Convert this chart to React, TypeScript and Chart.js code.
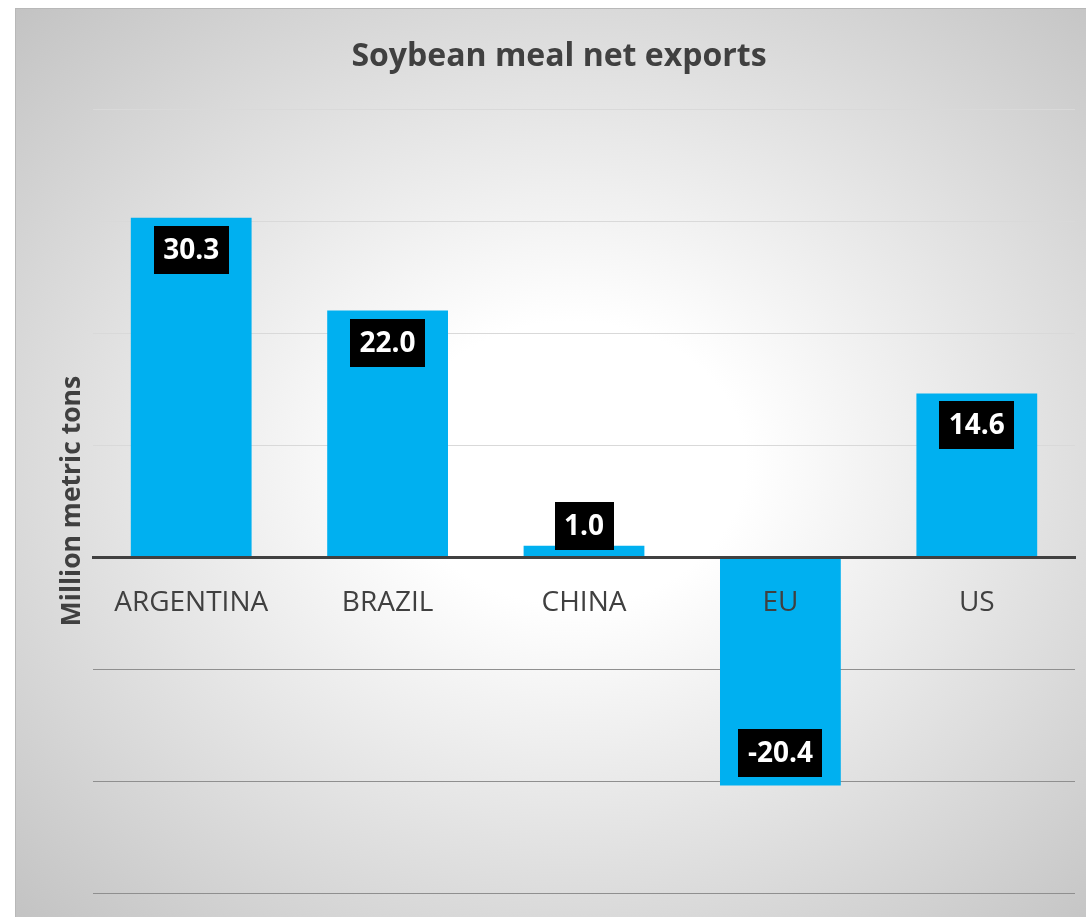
import { useEffect, useRef } from "react";
import { Chart, registerables } from "chart.js";

Chart.register(...registerables);

// Net soybean meal exports by country (million metric tons)
const countries = ["ARGENTINA", "BRAZIL", "CHINA", "EU", "US"];
const netExports = [30.3, 22.0, 1.0, -20.4, 14.6];

// Value axis range and gridline spacing
const yMin = -30;
const yMax = 40;
const yStep = 10;

const FONT = "'Open Sans', 'DejaVu Sans', sans-serif";

// Black value boxes with white bold numbers, placed just inside the bar end
const valueBoxes = {
  id: "valueBoxes",
  afterDraw(chart: any) {
    const ctx = chart.ctx as CanvasRenderingContext2D;
    const meta = chart.getDatasetMeta(0);
    const data = chart.data.datasets[0].data as number[];
    ctx.save();
    ctx.font = `bold 28px ${FONT}`;
    ctx.textAlign = "center";
    ctx.textBaseline = "middle";
    meta.data.forEach((bar: any, i: number) => {
      const v = data[i];
      const text = v.toFixed(1);
      const w = Math.round(ctx.measureText(text).width + 19);
      const h = 48;
      const { x, y, base } = bar.getProps(["x", "y", "base"], true);
      const len = Math.abs(base - y);
      let top: number;
      if (v >= 0) {
        top = len >= h + 16 ? y + 8 : y - h + 4;
      } else {
        top = len >= h + 16 ? y - 8 - h : y - 4;
      }
      ctx.fillStyle = "#000000";
      ctx.fillRect(Math.round(x - w / 2), Math.round(top), w, h);
      ctx.fillStyle = "#ffffff";
      ctx.fillText(text, x, top + h / 2 + 1);
    });
    ctx.restore();
  },
};

export default function App() {
  const canvasRef = useRef<HTMLCanvasElement | null>(null);

  useEffect(() => {
    const canvas = canvasRef.current;
    if (!canvas) return;
    const chart = new Chart(canvas, {
      type: "bar",
      data: {
        labels: countries,
        datasets: [
          {
            data: netExports,
            backgroundColor: "#00B0F0",
            borderWidth: 0,
            categoryPercentage: 1,
            barPercentage: 0.615,
          },
        ],
      },
      options: {
        animation: false,
        responsive: false,
        devicePixelRatio: 1,
        layout: { padding: { left: 27, right: 11, top: 0, bottom: 24 } },
        plugins: {
          legend: { display: false },
          tooltip: { enabled: false },
          title: {
            display: true,
            text: "Soybean meal net exports",
            color: "#404040",
            font: { family: FONT, size: 32, weight: "bold", lineHeight: 1.2 },
            padding: { top: 28.8, bottom: 32.8 },
          },
        },
        scales: {
          x: {
            position: { y: 0 } as any,
            grid: { display: false, drawTicks: false },
            border: { display: true, color: "#404040", width: 3, z: 1 },
            ticks: {
              color: "#404040",
              font: { family: FONT, size: 28 },
              padding: 29,
              z: 1,
            },
          },
          y: {
            min: yMin,
            max: yMax,
            ticks: { display: false, stepSize: yStep },
            grid: {
              drawTicks: false,
              lineWidth: 1,
              color: (c: any) =>
                c.tick && c.tick.value < 0 ? "#8f8f8f" : "#d9d9d9",
            },
            border: { display: false },
            title: {
              display: true,
              text: "Million metric tons",
              color: "#404040",
              font: { family: FONT, size: 26.5, weight: "bold", lineHeight: 1.2 },
              padding: { top: 14, bottom: 0 },
            },
            afterFit: (scale: any) => {
              scale.width = 50;
            },
          },
        },
      },
      plugins: [valueBoxes],
    });
    return () => chart.destroy();
  }, []);

  return (
    <div
      style={{
        position: "fixed",
        left: 15,
        top: 8,
        width: 1071,
        height: 909,
        boxSizing: "border-box",
        borderTop: "1px solid #b8b8b8",
        borderLeft: "1px solid #b8b8b8",
        background:
          "radial-gradient(farthest-corner at 52% 50%, #ffffff 0%, #ffffff 22%, #c3c3c3 100%)",
        overflow: "hidden",
      }}
    >
      <canvas
        ref={canvasRef}
        width={1070}
        height={908}
        style={{ display: "block", width: 1070, height: 908 }}
      />
    </div>
  );
}
